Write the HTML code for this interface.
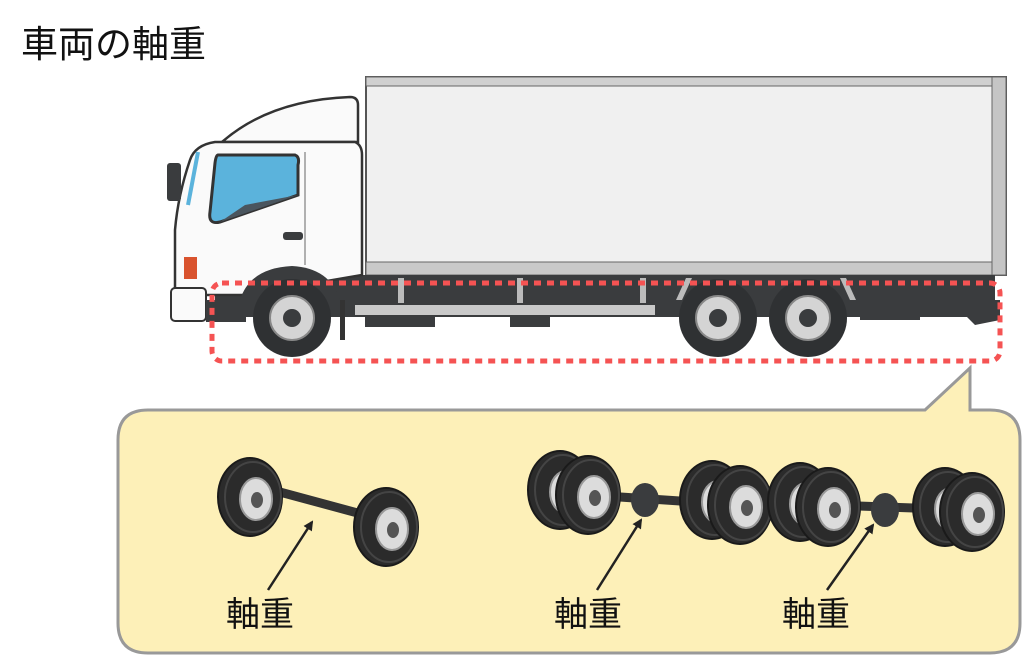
<!DOCTYPE html>
<html><head><meta charset="utf-8"><style>
html,body{margin:0;padding:0;background:#fff;}
svg{display:block;}
text{font-family:"Liberation Sans","Noto Sans CJK JP",sans-serif;}
</style></head><body>
<svg width="1024" height="666" viewBox="0 0 1024 666" xmlns="http://www.w3.org/2000/svg">
<defs>
<marker id="ah" markerWidth="10" markerHeight="10" refX="8" refY="5" orient="auto" markerUnits="userSpaceOnUse"><path d="M0,0 L10,5 L0,10 z" fill="#222"/></marker>
<g id="tire">
<ellipse cx="0" cy="0" rx="32" ry="39" fill="#2b2b2b" stroke="#1a1a1a" stroke-width="2"/>
<ellipse cx="3" cy="0" rx="28" ry="35" fill="none" stroke="#444" stroke-width="2"/>
<ellipse cx="6" cy="2" rx="16" ry="21" fill="#dcdcdc" stroke="#999" stroke-width="2"/>
<ellipse cx="7" cy="3" rx="6" ry="8" fill="#555"/>
</g>
</defs>
<text x="21" y="57" font-size="37" fill="#111">車両の軸重</text>

<!-- box -->
<rect x="366" y="77" width="640" height="198" fill="#f0f0f0" stroke="#555" stroke-width="2"/>
<rect x="366" y="77" width="640" height="9" fill="#d0d0d0" stroke="#666" stroke-width="1"/>
<rect x="366" y="262" width="640" height="13" fill="#c9c9c9" stroke="#666" stroke-width="1"/>
<rect x="992" y="77" width="14" height="198" fill="#c5c5c5" stroke="#666" stroke-width="1"/>

<!-- chassis -->
<rect x="215" y="275" width="780" height="42" fill="#3a3c3e"/>
<rect x="355" y="305" width="300" height="10" fill="#c9c9c9"/>
<rect x="365" y="315" width="70" height="12" fill="#3a3c3e"/>
<rect x="510" y="315" width="40" height="12" fill="#3a3c3e"/>
<rect x="860" y="290" width="60" height="30" fill="#3a3c3e"/>
<path d="M950,300 L1000,300 L1000,320 L975,325 Z" fill="#3a3c3e"/>
<rect x="398" y="278" width="6" height="25" fill="#bbb"/>
<rect x="517" y="278" width="6" height="25" fill="#bbb"/>
<rect x="640" y="278" width="6" height="25" fill="#bbb"/>
<path d="M686,278 L692,278 L682,300 L676,300 Z" fill="#bbb"/>
<path d="M840,278 L846,278 L856,300 L850,300 Z" fill="#bbb"/>
<rect x="340" y="300" width="5" height="40" fill="#333"/>

<!-- cab -->
<path d="M222,142 Q270,100 350,97 Q358,97 358,105 L358,142 Z" fill="#fafafa" stroke="#333" stroke-width="2.5"/>
<path d="M190,160 Q195,145 215,142 L355,142 Q362,145 362,155 L362,275 L245,295 L175,295 L175,230 Q178,195 190,160 Z" fill="#fafafa" stroke="#333" stroke-width="2.5"/>
<path d="M240,300 Q250,268 292,266 Q330,268 340,300 Z" fill="#3a3c3e"/>
<path d="M218,155 L295,155 Q300,157 298,165 L298,195 L220,222 Q208,225 210,212 L215,163 Q216,155 218,155 Z" fill="#5bb3dc" stroke="#333" stroke-width="3"/>
<path d="M245,205 L298,195 L220,222 Z" fill="#4a555e"/>
<line x1="305" y1="152" x2="305" y2="265" stroke="#666" stroke-width="1"/>
<rect x="283" y="232" width="20" height="8" rx="3" fill="#3a3c3e"/>
<rect x="167" y="163" width="14" height="38" rx="3" fill="#3a3c3e"/>
<path d="M198,152 L188,205" stroke="#5bb3dc" stroke-width="4"/>
<rect x="184" y="257" width="13" height="22" fill="#d9532e"/>
<rect x="171" y="288" width="35" height="33" rx="4" fill="#fafafa" stroke="#333" stroke-width="2"/>
<rect x="206" y="300" width="40" height="22" fill="#3a3c3e"/>

<!-- wheels -->
<g fill="#2f3133">
<circle cx="292" cy="318" r="39"/><circle cx="718" cy="318" r="39"/><circle cx="808" cy="318" r="39"/>
</g>
<g fill="#d4d4d4" stroke="#888" stroke-width="2">
<circle cx="292" cy="318" r="22"/><circle cx="718" cy="318" r="22"/><circle cx="808" cy="318" r="22"/>
</g>
<g fill="#3a3c3e">
<circle cx="292" cy="318" r="9"/><circle cx="718" cy="318" r="9"/><circle cx="808" cy="318" r="9"/>
</g>

<!-- red dashed -->
<rect x="212" y="283" width="788" height="78" rx="10" fill="none" stroke="#f55353" stroke-width="5" stroke-dasharray="7,6"/>

<!-- callout -->
<path d="M148,410 L925,410 L970,368 L970,410 L990,410 Q1020,410 1020,440 L1020,623 Q1020,653 990,653 L148,653 Q118,653 118,623 L118,440 Q118,410 148,410 Z" fill="#fdf0b8" stroke="#999" stroke-width="3"/>

<!-- front axle -->
<path d="M265,488 L365,515" stroke="#333" stroke-width="9"/>
<use href="#tire" x="250" y="497"/>
<use href="#tire" x="386" y="527"/>

<!-- rear axles -->
<path d="M590,495 L740,505" stroke="#333" stroke-width="9"/>
<path d="M830,505 L970,510" stroke="#333" stroke-width="9"/>
<use href="#tire" x="560" y="490"/>
<use href="#tire" x="588" y="495"/>
<ellipse cx="645" cy="500" rx="14" ry="17" fill="#3a3c3e"/>
<use href="#tire" x="712" y="500"/>
<use href="#tire" x="740" y="505"/>
<use href="#tire" x="800" y="502"/>
<use href="#tire" x="828" y="507"/>
<ellipse cx="885" cy="510" rx="14" ry="17" fill="#3a3c3e"/>
<use href="#tire" x="945" y="507"/>
<use href="#tire" x="972" y="512"/>

<!-- arrows -->
<line x1="268" y1="590" x2="312" y2="522" stroke="#222" stroke-width="2.5" marker-end="url(#ah)"/>
<line x1="597" y1="590" x2="641" y2="520" stroke="#222" stroke-width="2.5" marker-end="url(#ah)"/>
<line x1="827" y1="590" x2="873" y2="525" stroke="#222" stroke-width="2.5" marker-end="url(#ah)"/>

<text x="226" y="626" font-size="34" fill="#111">軸重</text>
<text x="554" y="626" font-size="34" fill="#111">軸重</text>
<text x="782" y="626" font-size="34" fill="#111">軸重</text>
</svg>
</body></html>
